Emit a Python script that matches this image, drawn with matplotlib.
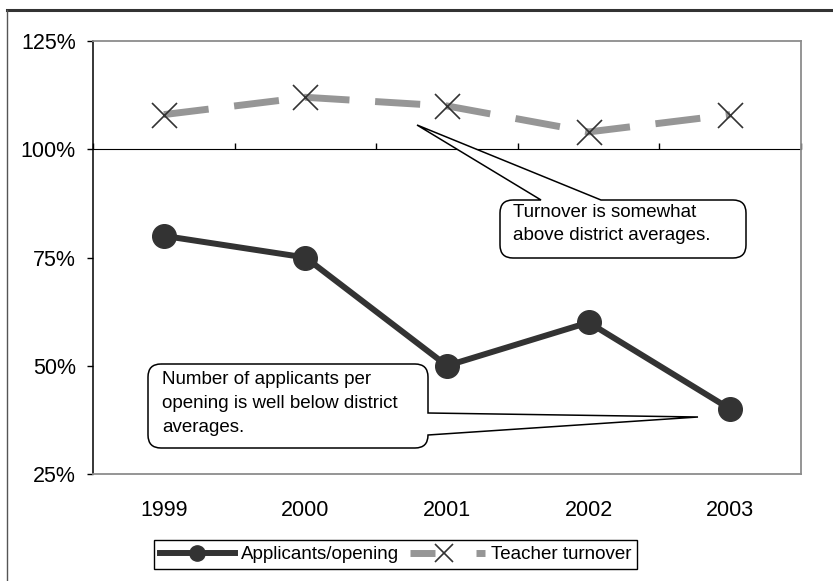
import matplotlib
matplotlib.use("Agg")
import matplotlib.pyplot as plt
from matplotlib.lines import Line2D
from matplotlib.path import Path
from matplotlib.patches import PathPatch
from matplotlib.ticker import FuncFormatter

plt.rcParams['font.family'] = ['Liberation Sans', 'DejaVu Sans']

years = ["1999", "2000", "2001", "2002", "2003"]
applicants = [80, 75, 50, 60, 40]
turnover = [108, 112, 110, 104, 108]
y_ticks = [25, 50, 75, 100, 125]

DARK = '#333333'
GREY = '#969696'

W, H = 833, 581
fig = plt.figure(figsize=(W / 100, H / 100), dpi=100)
L, R, T, B = 93, 801, 41, 474
ax = fig.add_axes([L / W, (H - B) / H, (R - L) / W, (B - T) / H])

x = list(range(len(years)))
ax.plot(x, applicants, color=DARK, lw=4.3, marker='o', ms=17,
        mfc=DARK, mec=DARK, zorder=4)
l2, = ax.plot(x, turnover, color=GREY, lw=5, dashes=(6.5, 3.7),
              zorder=3)
ax.plot(x, turnover, ls='none', marker='x', ms=18, mew=1.2, color=DARK,
        zorder=4)

ax.set_xlim(-0.5, len(years) - 0.5)
ax.set_ylim(25, 125)
ax.set_yticks(y_ticks)
ax.yaxis.set_major_formatter(FuncFormatter(lambda v, p: f"{int(v)}%"))
ax.set_xticks(x)
ax.set_xticklabels(years)
ax.tick_params(axis='x', length=0, pad=19, labelsize=15.5)
ax.tick_params(axis='y', length=4.3, width=1, color='black', pad=8,
               labelsize=15.5)
for s in ['top', 'right', 'bottom']:
    ax.spines[s].set_color('#8c8c8c')
    ax.spines[s].set_linewidth(1.3)
ax.spines['left'].set_color('black')
ax.spines['left'].set_linewidth(1.1)

# category axis crossing at 100%
sec = ax.secondary_xaxis((100 - 25) / (125 - 25))
sec.set_xticks([i - 0.5 for i in range(len(years) + 1)])
sec.set_xticklabels([])
sec.tick_params(axis='x', length=4.3, width=1, color='black', direction='out')
sec.spines['bottom'].set_color('black')
sec.spines['bottom'].set_linewidth(1.1)


def fx(px):
    return (px - L) / (R - L)


def fy(py):
    return (B - py) / (B - T)


def callout(x0, y0, x1, y1, side, b1, b2, tip, r=13):
    # pixel coords (y downward); build in axes fraction
    rx = r / (R - L)
    ry = r / (B - T)
    X0, X1 = fx(x0), fx(x1)
    Yt, Yb = fy(y0), fy(y1)
    verts, codes = [], []

    def mv(p):
        verts.append(p); codes.append(Path.MOVETO)

    def ln(p):
        verts.append(p); codes.append(Path.LINETO)

    def cv(c, p):
        verts.extend([c, p]); codes.extend([Path.CURVE3, Path.CURVE3])

    mv((X0 + rx, Yt))
    if side == 'top':
        ln((fx(b1), Yt)); ln((fx(tip[0]), fy(tip[1]))); ln((fx(b2), Yt))
    ln((X1 - rx, Yt))
    cv((X1, Yt), (X1, Yt - ry))
    if side == 'right':
        ln((X1, fy(b1))); ln((fx(tip[0]), fy(tip[1]))); ln((X1, fy(b2)))
    ln((X1, Yb + ry))
    cv((X1, Yb), (X1 - rx, Yb))
    ln((X0 + rx, Yb))
    cv((X0, Yb), (X0, Yb + ry))
    ln((X0, Yt - ry))
    cv((X0, Yt), (X0 + rx, Yt))
    p = PathPatch(Path(verts, codes), transform=ax.transAxes, fc='white',
                  ec='black', lw=1.1, zorder=6, clip_on=False)
    ax.add_patch(p)


callout(500, 200, 746, 258, 'top', 541, 601, (417, 125))
ax.text(fx(513), fy(204), "Turnover is somewhat\nabove district averages.",
        transform=ax.transAxes, ha='left', va='top', fontsize=13.5,
        linespacing=1.5, zorder=7)

callout(148, 364, 428, 448, 'right', 413, 435, (698, 417))
ax.text(fx(162), fy(371), "Number of applicants per\nopening is well below district\naverages.",
        transform=ax.transAxes, ha='left', va='top', fontsize=13.5,
        linespacing=1.55, zorder=7)


class TurnoverHandler:
    def legend_artist(self, legend, orig_handle, fontsize, handlebox):
        w, h = handlebox.width, handlebox.height
        x0, y0 = handlebox.xdescent, handlebox.ydescent
        yc = h / 2 - y0
        a1 = Line2D([-x0, -x0 + 0.33 * w], [yc, yc], color=GREY, lw=5,
                    ls='-', solid_capstyle='butt')
        a2 = Line2D([-x0 + 0.46 * w], [yc], ls='none', marker='x', ms=13.5,
                    mew=1.2, color=DARK)
        a3 = Line2D([-x0 + 0.88 * w, -x0 + w], [yc, yc], color=GREY, lw=5,
                    ls='-', solid_capstyle='butt')
        for a in (a1, a2, a3):
            a.set_transform(handlebox.get_transform())
            handlebox.add_artist(a)
        return a1


h1 = Line2D([], [], color=DARK, lw=4.3, marker='o', ms=11, mfc=DARK,
            mec=DARK)
leg = fig.legend([h1, l2], ["Applicants/opening", "Teacher turnover"],
                 handler_map={l2: TurnoverHandler()},
                 loc='center', bbox_to_anchor=(395.5 / W, 1 - 554.5 / H),
                 ncol=2, fontsize=13.5, handlelength=4.0, handletextpad=0.3,
                 columnspacing=0.6, borderpad=0.3, fancybox=False,
                 frameon=True, edgecolor='black', framealpha=1)
leg.get_frame().set_linewidth(1.0)

# outer chart border (partially visible)
fig.add_artist(Line2D([7 / W, 1], [1 - 10 / H, 1 - 10 / H], color='#333333',
                      lw=2.2, transform=fig.transFigure))
fig.add_artist(Line2D([7 / W, 7 / W], [0, 1 - 10 / H], color='#555555',
                      lw=1.0, transform=fig.transFigure))

fig.savefig("out.png", dpi=100)
